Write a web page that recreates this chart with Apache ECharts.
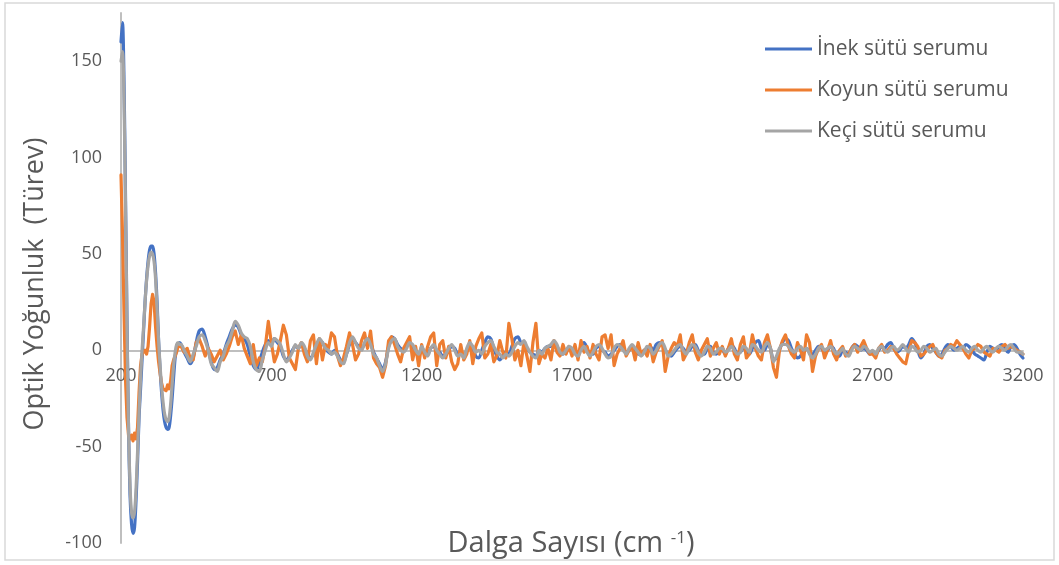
<!DOCTYPE html>
<html><head><meta charset="utf-8">
<script src="https://cdn.jsdelivr.net/npm/echarts@6/dist/echarts.min.js"></script>
<style>html,body{margin:0;padding:0;background:#fff}#c{width:1059px;height:565px}</style>
</head><body><div id="c"></div><script>
const seriesNames = ['İnek sütü serumu', 'Koyun sütü serumu', 'Keçi sütü serumu'];
const yTitle = 'Optik Yoğunluk  (Türev)';
const xTitle = 'Dalga Sayısı (cm ';
const xTitleSup = '-1';

// sampling grid: 200–395 every 5 cm-1, then 400–3200 every 10 cm-1
const waveNumbers = [];
for (let w = 200; w < 400; w += 5) waveNumbers.push(w);
for (let w = 400; w <= 3200; w += 10) waveNumbers.push(w);

const inek = [
  // 200-395 (step 5)
  160,170,140,80,15,-40,-75,-90,-95,-92,-78,-58,-35,-20,-5,10,25,37,46,52,54,54,50,40,25,5,-10,-22,-31,-37,-40,-41,-40,-34,-25,-14,-4,1,3,4,
  // 400-690
  3,-1,-4,-7,-4,4,10,11,7,1, -6,-10,-9,-5,-2,3,7,11,13,12, 8,6,3,-3,-8,-10,-6,-1,3,5,
  // 700-1190
  3,6,4,2,-3,-5,-3,0,2,1, 3,1,-2,-4,-2,2,5,4,1,-1, -2,0,-2,-5,-6,-2,3,6,4,2, 1,3,5,4,-1,-4,-7,-10,-6,2, 7,6,3,1,0,2,4,2,-1,-3,
  // 1200-1690
  1,-1,-2,1,2,0,-1,-3,-2,0, 2,1,-2,-2,-3,0,3,1,-3,-4, 0,4,7,6,1,-3,-5,-3,-1,-2, 2,6,7,4,3,1,-1,-2,-3,0, -1,1,2,2,4,2,-1,-2,0,1,
  // 1700-2190
  0,-1,-2,2,4,1,-2,-2,1,2, 0,-1,-3,-2,0,2,3,1,-1,0, 2,0,-2,-2,0,1,2,0,3,4, 3,0,-2,-3,-1,1,2,1,-1,0, 2,3,0,-2,-2,1,2,-1,-2,0,
  // 2200-2690
  0,-2,1,3,1,-2,-1,1,0,-2, 1,4,5,1,0,3,1,-5,-4,0, 4,6,5,1,-2,-4,-3,0,1,-1, -2,0,2,1,-1,0,2,1,-3,-3, 0,-1,-2,1,3,2,0,1,0,-2,
  // 2700-3200
  -1,-2,0,2,1,3,4,1,-1,0, 2,1,3,6,4,0,-4,-2,2,3, 1,-1,-3,-2,1,3,2,0,1,2, 1,3,2,0,-2,-3,-4,-5,-1,2, 1,0,2,3,1,-1,2,3,1,-2, -4
];

const koyun = [
  // 200-395 (step 5)
  91,60,20,-15,-35,-44,-46,-44,-47,-43,-46,-40,-22,-8,-2,-3,0,-2,2,12,24,29,25,12,2,-6,-12,-17,-20,-19,-21,-18,-20,-16,-8,-5,-3,-1,2,3,
  // 400-690
  2,-1,1,-4,-5,4,6,2,-3,1, -2,-6,-3,0,-5,-2,2,7,10,3, 8,1,-3,-7,3,-8,-4,-6,2,15,
  // 700-1190
  4,-6,-2,5,13,8,-4,-7,-10,1, 4,-2,-6,5,8,-7,6,-5,3,1, 9,7,-3,-8,-4,2,9,3,-5,-2, 5,9,1,10,-4,-7,-9,-14,-8,5, 7,3,-2,-6,1,4,7,-5,2,-8,
  // 1200-1690
  3,-4,2,7,9,-8,3,5,-4,2, -6,-10,-7,3,-5,-2,5,-7,2,6, 9,-4,-2,3,-6,-3,5,-1,-4,14, 6,-5,0,-8,4,-3,-11,4,14,-7, -2,-4,1,-5,5,-1,-3,3,-2,2,
  // 1700-2190
  -3,3,-5,5,-1,2,-4,3,-2,-5, 7,8,1,8,-8,-2,1,5,-3,0, 2,-5,4,-2,0,-3,3,-6,-1,2, 5,-11,-3,1,4,2,8,-5,-2,4, 8,-1,-5,0,3,6,-3,1,4,-2,
  // 2200-2690
  2,-3,1,6,-2,-5,3,7,-4,-2, 8,1,-3,-5,4,8,1,-9,-14,0, 5,8,2,-2,-4,4,0,-5,8,4, -11,-3,1,3,-4,0,5,-2,-5,0, 2,-3,-2,1,3,-1,2,5,1,-2,
  // 2700-3200
  -2,-4,1,3,-1,0,2,1,-2,-4, -6,-7,0,5,4,2,-3,-2,0,2, 3,-1,-3,-4,0,1,3,2,5,3, 1,-2,-4,0,1,3,2,-1,-2,-3, 1,0,-1,2,3,1,2,1,0,-1, -2
];

const keci = [
  // 200-395 (step 5)
  150,155,130,75,12,-40,-70,-84,-87,-84,-72,-53,-32,-15,0,12,25,36,44,49,51,50,46,37,22,5,-8,-19,-27,-33,-36,-37,-35,-28,-18,-8,-1,3,4,3,
  // 400-690
  3,0,-3,-6,-2,2,7,8,5,0, -7,-9,-11,-6,-3,2,5,10,15,13, 9,7,6,2,-6,-10,-11,-5,0,4,
  // 700-1190
  2,6,5,3,-2,-6,-4,-1,3,1, 4,2,-3,-5,-1,3,6,4,1,0, -2,-1,-3,-6,-7,-2,4,7,4,1, 0,4,6,3,-2,-4,-8,-11,-7,1, 5,6,2,0,-1,1,4,3,0,-2,
  // 1200-1690
  2,-1,-3,1,3,0,-2,-4,-2,1, 3,0,-3,-2,-4,1,4,2,-1,0, -2,2,4,5,2,-1,-2,-4,-2,-3, -1,2,4,3,5,2,-1,-3,-4,0, -2,1,2,3,5,3,-1,-2,0,2,
  // 1700-2190
  1,-2,-3,0,2,-1,-3,-1,2,3, 1,-2,-4,-3,1,3,2,0,-2,1, 3,1,-1,-3,-1,2,1,-2,0,3, 4,1,-3,-2,0,2,3,0,-2,1, 3,2,-1,-3,-1,2,1,-2,-1,1,
  // 2200-2690
  1,-1,0,2,0,-2,-1,2,1,-1, 3,2,0,-1,2,4,1,-6,-3,1, 3,3,2,0,-1,1,2,0,1,-2, -4,-2,1,2,0,1,2,0,-2,-1, 1,-2,-3,0,2,1,0,2,1,-1,
  // 2700-3200
  0,-2,1,2,0,-1,1,2,0,1, 3,1,-1,2,1,-1,0,2,1,-1, 0,1,-2,-3,-1,1,2,1,0,1, 2,0,-1,1,2,0,-1,1,2,0, -1,1,2,1,0,2,3,1,-1,-1, -2
];

const colors = ['#4472C4', '#ED7D31', '#A5A5A5'];
const font = 'Open Sans';
const txt = '#595959';

const pair = arr => waveNumbers.map((w, i) => [w, arr[i]]);
const values = [inek, koyun, keci];

const Y_MIN = -100, Y_MAX = 175;
const GRID = { left: 121, right: 36, top: 13, bottom: 22 };
const plotH = 565 - GRID.top - GRID.bottom;
// move the x axis (line + labels) up to y = 0, as in the reference
const zeroOffset = -plotH * (0 - Y_MIN) / (Y_MAX - Y_MIN);

const chart = echarts.init(document.getElementById('c'), null, { renderer: 'canvas' });
chart.setOption({
  animation: false,
  backgroundColor: '#fff',
  color: colors,
  grid: Object.assign({ containLabel: false, outerBoundsMode: 'none' }, GRID),
  legend: {
    orient: 'vertical', left: 760, top: 33,
    icon: 'rect', itemWidth: 47, itemHeight: 3, itemGap: 19,
    textStyle: { fontFamily: font, fontSize: 21, color: txt, lineHeight: 22 },
    data: seriesNames
  },
  xAxis: {
    type: 'value', min: 200, max: 3200, interval: 500,
    offset: zeroOffset,
    axisLine: { onZero: false, lineStyle: { color: '#BFBFBF', width: 2 } },
    axisTick: { show: false },
    splitLine: { show: false },
    axisLabel: { fontFamily: font, fontSize: 18, color: txt, margin: 17,
      formatter: v => String(v) }
  },
  yAxis: {
    type: 'value', min: Y_MIN, max: Y_MAX, interval: 50,
    axisLine: { show: true, lineStyle: { color: '#BFBFBF', width: 2 } },
    axisTick: { show: false },
    splitLine: { show: false },
    axisLabel: { fontFamily: font, fontSize: 18, color: txt, margin: 19,
      formatter: v => (v > 150 ? '' : String(v)) }
  },
  graphic: [
    { type: 'rect', silent: true, shape: { x: 5, y: 3, width: 1049, height: 557 },
      style: { fill: 'none', stroke: '#D9D9D9', lineWidth: 1.5 } },
    { type: 'text', x: 35, y: 284, rotation: Math.PI / 2,
      style: { text: yTitle, fontFamily: font, fontSize: 27, fill: txt, align: 'center', verticalAlign: 'middle' } },
    { type: 'text', x: 571, y: 544,
      style: { text: '{a|' + xTitle + '}{s|' + xTitleSup + '}{a|)}', align: 'center', verticalAlign: 'middle',
        rich: { a: { fontFamily: font, fontSize: 29, fill: txt, color: txt },
                s: { fontFamily: font, fontSize: 17, fill: txt, color: txt, verticalAlign: 'top' } } } }
  ],
  series: values.map((arr, k) => ({
    name: seriesNames[k], type: 'line', data: pair(arr),
    showSymbol: false, symbol: 'none', smooth: k === 1 ? false : 0.3,
    lineStyle: { width: 3.2, color: colors[k], join: 'round', cap: 'round' },
    itemStyle: { color: colors[k] },
    emphasis: { disabled: true }, z: 2 + k
  }))
});
</script></body></html>
